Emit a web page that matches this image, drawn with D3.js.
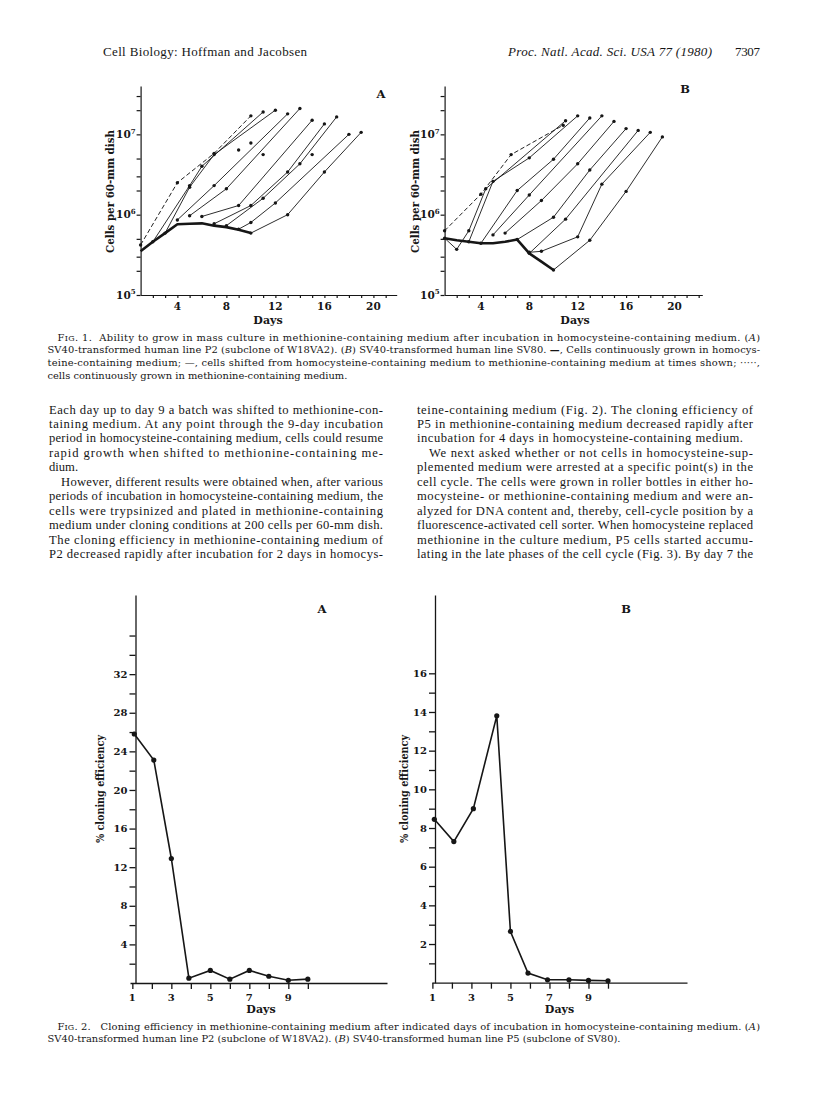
<!DOCTYPE html>
<html>
<head>
<meta charset="utf-8">
<script src="https://d3js.org/d3.v7.min.js"></script>
<style>
  body { margin: 0; background: #fff; }
</style>
</head>
<body>
<div id="page"></div>
<script>
// ---------- Fig. 1: cells per 60-mm dish (log) vs days ----------
var fig1XLabels = [4, 8, 12, 16, 20];
var fig1YTicks = [1e5, 2e5, 3e5, 5e5, 1e6, 2e6, 3e6, 5e6, 1e7, 2e7, 3e7];
var fig1Decades = [1e5, 1e6, 1e7];

// panel A: methionine (dashed), homocysteine (thick), shifted (thin)
var metDaysA = [1, 4, 7, 10];
var metCellsA = [4.2e5, 2.5e6, 5.8e6, 1.7e7];
var hcyDaysA = [1, 2, 3, 4, 5, 6, 7, 8, 9, 10];
var hcyCellsA = [3.5e5, 4.6e5, 5.9e5, 7.6e5, 7.7e5, 7.8e5, 7.3e5, 7.0e5, 6.5e5, 5.9e5];
var shiftedA = [
  [[2, 4.6e5], [5, 2.3e6], [6, 4.0e6], [11, 1.9e7]],
  [[3, 5.9e5], [5, 2.2e6], [7, 5.6e6], [12, 2.0e7]],
  [[4, 8.6e5], [7, 2.3e6], [13, 1.8e7]],
  [[5, 9.7e5], [8, 2.1e6], [14, 2.1e7]],
  [[6, 9.5e5], [9, 1.3e6], [15, 1.5e7]],
  [[7, 7.7e5], [10, 1.3e6], [13, 3.4e6], [16, 1.35e7]],
  [[8, 7.3e5], [11, 1.6e6], [14, 4.3e6], [17, 1.65e7]],
  [[9, 6.6e5], [10, 8.0e5], [12, 1.4e6], [18, 1.0e7]],
  [[10, 5.9e5], [13, 1.0e6], [16, 3.4e6], [19, 1.06e7]]
];
var looseA = [[9, 6.4e6], [10, 7.8e6], [11, 5.6e6], [15, 5.6e6]];

// panel B
var metDaysB = [1, 4, 6.5, 10.8];
var metCellsB = [6.3e5, 1.8e6, 5.6e6, 1.3e7];
var hcyDaysB = [1, 2, 3, 4, 5, 6, 7, 8, 9, 10];
var hcyCellsB = [5.1e5, 4.8e5, 4.6e5, 4.4e5, 4.4e5, 4.6e5, 4.9e5, 3.3e5, 2.6e5, 2.05e5];
var shiftedB = [
  [[1, 5.1e5], [2, 3.7e5], [3, 6.3e5], [4.4, 2.1e6], [11, 1.48e7]],
  [[3, 4.6e5], [5, 2.6e6], [8, 5.1e6], [12, 1.7e7]],
  [[4, 4.4e5], [7, 2.0e6], [10, 4.9e6], [13, 1.6e7]],
  [[5, 5.6e5], [8, 1.76e6], [14, 1.7e7]],
  [[6, 5.9e5], [9, 1.5e6], [12, 4.3e6], [15, 1.45e7]],
  [[7, 4.9e5], [10, 9.3e5], [13, 3.6e6], [16, 1.18e7]],
  [[8, 3.3e5], [11, 8.8e5], [17, 1.12e7]],
  [[8, 3.4e5], [9, 3.5e5], [12, 5.3e5], [14, 2.4e6], [18, 1.06e7]],
  [[10, 2.05e5], [13, 4.8e5], [16, 1.95e6], [19, 9.3e6]]
];

// ---------- Fig. 2: % cloning efficiency vs days ----------
var fig2XTicks = [1, 2, 3, 4, 5, 6, 7, 8, 9, 10];
var fig2XLabels = [1, 3, 5, 7, 9];
var daysFig2A = [1.1, 2.1, 3, 3.9, 5, 6, 7, 8, 9, 10];
var effFig2A = [25.8, 23.1, 12.9, 0.5, 1.3, 0.4, 1.3, 0.7, 0.28, 0.4];
var yTicks2A = d3.range(2, 37, 2);
var yLabels2A = [4, 8, 12, 16, 20, 24, 28, 32];
var daysFig2B = [1.1, 2.1, 3.1, 4.3, 5, 5.9, 6.9, 8, 9, 10];
var effFig2B = [8.45, 7.3, 9.0, 13.8, 2.65, 0.5, 0.15, 0.15, 0.12, 0.1];
var yTicks2B = d3.range(1, 17, 1);
var yLabels2B = [2, 4, 6, 8, 10, 12, 14, 16];

// ---------- page text ----------
var col1Lines = [
  "Each day up to day 9 a batch was shifted to methionine-con-",
  "taining medium. At any point through the 9-day incubation",
  "period in homocysteine-containing medium, cells could resume",
  "rapid growth when shifted to methionine-containing me-",
  "dium.",
  "However, different results were obtained when, after various",
  "periods of incubation in homocysteine-containing medium, the",
  "cells were trypsinized and plated in methionine-containing",
  "medium under cloning conditions at 200 cells per 60-mm dish.",
  "The cloning efficiency in methionine-containing medium of",
  "P2 decreased rapidly after incubation for 2 days in homocys-"
];
var col2Lines = [
  "teine-containing medium (Fig. 2). The cloning efficiency of",
  "P5 in methionine-containing medium decreased rapidly after",
  "incubation for 4 days in homocysteine-containing medium.",
  "We next asked whether or not cells in homocysteine-sup-",
  "plemented medium were arrested at a specific point(s) in the",
  "cell cycle. The cells were grown in roller bottles in either ho-",
  "mocysteine- or methionine-containing medium and were an-",
  "alyzed for DNA content and, thereby, cell-cycle position by a",
  "fluorescence-activated cell sorter. When homocysteine replaced",
  "methionine in the culture medium, P5 cells started accumu-",
  "lating in the late phases of the cell cycle (Fig. 3). By day 7 the"
];
var cap1Lines = [
  "F<tspan font-size='8'>IG</tspan>. 1.&#160;&#160;Ability to grow in mass culture in methionine-containing medium after incubation in homocysteine-containing medium. (<tspan font-style='italic'>A</tspan>)",
  "SV40-transformed human line P2 (subclone of W18VA2). (<tspan font-style='italic'>B</tspan>) SV40-transformed human line SV80. <tspan font-weight='bold'>—</tspan>, Cells continuously grown in homocys-",
  "teine-containing medium; —, cells shifted from homocysteine-containing medium to methionine-containing medium at times shown; ·····,",
  "cells continuously grown in methionine-containing medium."
];
var cap2Lines = [
  "F<tspan font-size='8'>IG</tspan>. 2.&#160;&#160;&#160;Cloning efficiency in methionine-containing medium after indicated days of incubation in homocysteine-containing medium. (<tspan font-style='italic'>A</tspan>)",
  "SV40-transformed human line P2 (subclone of W18VA2). (<tspan font-style='italic'>B</tspan>) SV40-transformed human line P5 (subclone of SV80)."
];

var ink = "#161616";
var bodyFont = "'Liberation Serif', 'Times New Roman', serif";
var figFont = "'DejaVu Serif', serif";

var svg = d3.select("#page").append("svg")
  .attr("width", 816).attr("height", 1109);
svg.append("rect").attr("width", 816).attr("height", 1109).attr("fill", "#fff");

// header
svg.append("text").attr("x", 103).attr("y", 56)
  .style("font", "13px " + bodyFont).attr("fill", ink)
  .attr("textLength", 204).text("Cell Biology:  Hoffman and Jacobsen");
svg.append("text").attr("x", 508).attr("y", 56)
  .style("font", "italic 13px " + bodyFont).attr("fill", ink)
  .attr("textLength", 204).text("Proc. Natl. Acad. Sci. USA 77 (1980)");
svg.append("text").attr("x", 735).attr("y", 56)
  .style("font", "13px " + bodyFont).attr("fill", ink)
  .attr("textLength", 25).text("7307");

function styleAxis(a, w) {
  a.selectAll("path, line").attr("stroke", ink).attr("stroke-width", w);
}

function drawFig1(p) {
  var x = d3.scaleLinear().domain([1, p.xEnd]).range([p.left, p.right]);
  var y = d3.scaleLog().domain([1e5, 4e7]).range([295, 86]);
  var g = svg.append("g");

  var ax = g.append("g").attr("transform", "translate(0,295)")
    .call(d3.axisBottom(x).tickValues(d3.range(2, Math.floor(p.xEnd) + 1))
      .tickSize(3).tickSizeOuter(0).tickFormat(""));
  var ay = g.append("g").attr("transform", "translate(" + p.left + ",0)")
    .call(d3.axisLeft(y).tickValues(fig1YTicks).tickSize(4).tickSizeOuter(0).tickFormat(""));
  styleAxis(ax, 1.2);
  styleAxis(ay, 1.2);

  g.selectAll(".xl").data(fig1XLabels).enter().append("text")
    .attr("x", function(d) { return x(d); }).attr("y", 310)
    .attr("text-anchor", "middle").attr("fill", ink)
    .style("font", "bold 10.5px " + figFont).text(function(d) { return d; });
  g.selectAll(".yl").data(fig1Decades).enter().append("text")
    .attr("x", p.left - 5).attr("y", function(d) { return y(d) + 3.8; })
    .attr("text-anchor", "end").attr("fill", ink)
    .style("font", "bold 10.5px " + figFont)
    .html(function(d) {
      return "10<tspan dy='-4.5' font-size='7'>" + Math.round(Math.log10(d)) + "</tspan>";
    });
  g.append("text").attr("transform", "translate(" + p.labelX + ",191.5) rotate(-90)")
    .attr("text-anchor", "middle").attr("fill", ink)
    .style("font", "bold 11px " + figFont).attr("textLength", 123)
    .attr("lengthAdjust", "spacingAndGlyphs")
    .text("Cells per 60-mm dish");
  g.append("text").attr("x", p.daysX).attr("y", 324).attr("text-anchor", "middle")
    .attr("fill", ink).style("font", "bold 11px " + figFont).text("Days");
  g.append("text").attr("x", p.letterX).attr("y", p.letterY).attr("text-anchor", "middle")
    .attr("fill", ink).style("font", "bold 11.5px " + figFont).text(p.letter);

  var line = d3.line().x(function(d) { return x(d[0]); }).y(function(d) { return y(d[1]); });
  var met = d3.zip(p.metDays, p.metCells);
  var hcy = d3.zip(p.hcyDays, p.hcyCells);

  p.shifted.forEach(function(s) {
    g.append("path").attr("d", line(s)).attr("fill", "none")
      .attr("stroke", ink).attr("stroke-width", 0.9);
  });
  g.append("path").attr("d", line(met)).attr("fill", "none")
    .attr("stroke", ink).attr("stroke-width", 0.95).attr("stroke-dasharray", "4.5,2.5");
  g.append("path").attr("d", line(hcy)).attr("fill", "none")
    .attr("stroke", ink).attr("stroke-width", 2.6).attr("stroke-linejoin", "round");

  var pts = [].concat.apply([], p.shifted).concat(met).concat(p.loose || []);
  g.selectAll(".pt").data(pts).enter().append("circle")
    .attr("cx", function(d) { return x(d[0]); }).attr("cy", function(d) { return y(d[1]); })
    .attr("r", 1.7).attr("fill", ink);
}

drawFig1({
  left: 140.6, right: 396.7, xEnd: 21.9, labelX: 113.5, daysX: 268,
  letter: "A", letterX: 381, letterY: 98,
  metDays: metDaysA, metCells: metCellsA, hcyDays: hcyDaysA, hcyCells: hcyCellsA,
  shifted: shiftedA, loose: looseA
});
drawFig1({
  left: 444.6, right: 702.3, xEnd: 22.3, labelX: 418.5, daysX: 575,
  letter: "B", letterX: 685, letterY: 93,
  metDays: metDaysB, metCells: metCellsB, hcyDays: hcyDaysB, hcyCells: hcyCellsB,
  shifted: shiftedB
});

function drawFig2(p) {
  var x = d3.scaleLinear().domain(p.xDomain).range(p.xRange);
  var y = d3.scaleLinear().domain([0, p.yTop]).range([p.y0, 595]);
  var g = svg.append("g");

  var ax = g.append("g").attr("transform", "translate(0," + p.y0 + ")")
    .call(d3.axisBottom(x).tickValues(fig2XTicks).tickSize(6).tickSizeOuter(0).tickFormat(""));
  var ay = g.append("g").attr("transform", "translate(" + p.axisX + ",0)")
    .call(d3.axisLeft(y).tickValues(p.yTicks).tickSize(6).tickSizeOuter(0).tickFormat(""));
  styleAxis(ax, 1.3);
  styleAxis(ay, 1.3);

  g.selectAll(".xl").data(fig2XLabels).enter().append("text")
    .attr("x", function(d) { return x(d); }).attr("y", 1000.5)
    .attr("text-anchor", "middle").attr("fill", ink)
    .style("font", "bold 10px " + figFont).text(function(d) { return d; });
  g.selectAll(".yl").data(p.yLabels).enter().append("text")
    .attr("x", p.axisX - 8).attr("y", function(d) { return y(d) + 3.6; })
    .attr("text-anchor", "end").attr("fill", ink)
    .style("font", "bold 10px " + figFont).text(function(d) { return d; });
  g.append("text").attr("transform", "translate(" + p.labelX + ",789) rotate(-90)")
    .attr("text-anchor", "middle").attr("fill", ink)
    .style("font", "bold 11.5px " + figFont).attr("textLength", 108)
    .attr("lengthAdjust", "spacingAndGlyphs")
    .text("% cloning efficiency");
  g.append("text").attr("x", p.daysX).attr("y", 1013).attr("text-anchor", "middle")
    .attr("fill", ink).style("font", "bold 11px " + figFont).text("Days");
  g.append("text").attr("x", p.letterX).attr("y", 613).attr("text-anchor", "middle")
    .attr("fill", ink).style("font", "bold 11.5px " + figFont).text(p.letter);

  var data = d3.zip(p.days, p.eff);
  g.append("path").attr("d", d3.line().x(function(d) { return x(d[0]); })
      .y(function(d) { return y(d[1]); })(data))
    .attr("fill", "none").attr("stroke", ink).attr("stroke-width", 1.6);
  g.selectAll(".pt").data(data).enter().append("circle")
    .attr("cx", function(d) { return x(d[0]); }).attr("cy", function(d) { return y(d[1]); })
    .attr("r", 2.6).attr("fill", ink);
}

drawFig2({
  xDomain: [0.88, 14.06], xRange: [130, 387], y0: 983, yTop: 40.2, axisX: 135.5,
  yTicks: yTicks2A, yLabels: yLabels2A, labelX: 104, daysX: 261,
  letter: "A", letterX: 322, days: daysFig2A, eff: effFig2A
});
drawFig2({
  xDomain: [0.98, 14.05], xRange: [432, 687], y0: 982.7, yTop: 20.05, axisX: 435,
  yTicks: yTicks2B, yLabels: yLabels2B, labelX: 408, daysX: 559.5,
  letter: "B", letterX: 626, days: daysFig2B, eff: effFig2B
});

// captions
function captionBlock(lines, y0, lastNatural) {
  lines.forEach(function(t, i) {
    var indent = i === 0 ? 10 : 0;
    var el = svg.append("text").attr("x", 47.5 + indent).attr("y", y0 + i * 12.7)
      .attr("fill", ink).style("font", "9.9px " + figFont).html(t);
    if (!(lastNatural && i === lines.length - 1)) {
      el.attr("textLength", 712.5 - indent).attr("lengthAdjust", "spacing");
    }
  });
}
captionBlock(cap1Lines, 340.5, true);
captionBlock(cap2Lines, 1029.5, true);

// body columns
function column(lines, x, width, indents, ends) {
  lines.forEach(function(t, i) {
    var ind = indents.indexOf(i) >= 0 ? 12 : 0;
    var el = svg.append("text").attr("x", x + ind).attr("y", 413.5 + i * 14.45)
      .attr("fill", ink).style("font", "12.6px " + bodyFont).text(t);
    if (ends[i] === undefined) {
      el.attr("textLength", width - ind).attr("lengthAdjust", "spacing");
    } else if (ends[i] > 0) {
      el.attr("textLength", ends[i]).attr("lengthAdjust", "spacing");
    }
  });
}
column(col1Lines, 49, 334, [5], {4: 0});
column(col2Lines, 417, 336, [3], {2: 326});
</script>
</body>
</html>
